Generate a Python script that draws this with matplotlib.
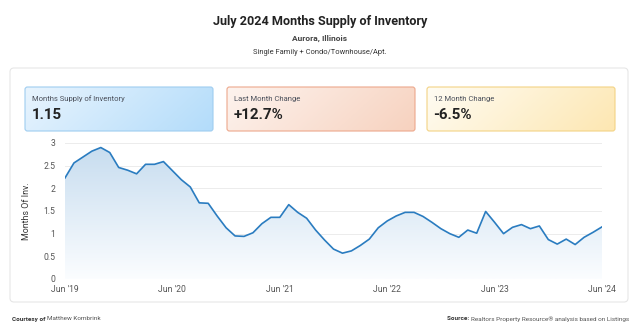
import matplotlib.pyplot as plt
import matplotlib
import numpy as np
from matplotlib.patches import FancyBboxPatch
from matplotlib.colors import LinearSegmentedColormap

matplotlib.rcParams['font.family'] = ['Roboto', 'DejaVu Sans']

# 데이터: Jun '19 ~ Jun '24 월별 재고 개월수
supply = [2.23, 2.56, 2.69, 2.82, 2.90, 2.79, 2.46,
          2.40, 2.32, 2.53, 2.53, 2.59, 2.39, 2.19, 2.03, 1.68, 1.67, 1.39, 1.13,
          0.95, 0.94, 1.02, 1.22, 1.36, 1.36, 1.64, 1.47, 1.34, 1.08, 0.86, 0.66,
          0.57, 0.62, 0.74, 0.88, 1.13, 1.28, 1.39, 1.47, 1.47, 1.38, 1.25, 1.11,
          1.00, 0.92, 1.08, 1.01, 1.49, 1.25, 1.00, 1.14, 1.20, 1.11, 1.17, 0.87,
          0.77, 0.88, 0.76, 0.92, 1.03, 1.15]
tick_labels = ["Jun '19", "Jun '20", "Jun '21", "Jun '22", "Jun '23", "Jun '24"]
kpi_names = ['Months Supply of Inventory', 'Last Month Change', '12 Month Change']
kpi_values = ['1.15', '+12.7%', '-6.5%']

W, H = 640, 336
fig = plt.figure(figsize=(6.4, 3.36), dpi=100)
fig.patch.set_facecolor('white')

# 배경용 축 (픽셀 좌표, 위쪽이 0)
bg = fig.add_axes([0, 0, 1, 1])
bg.set_xlim(0, W)
bg.set_ylim(H, 0)
bg.axis('off')

bg.text(320, 22, 'July 2024 Months Supply of Inventory', ha='center', va='center',
        fontsize=9.1, fontweight='bold', color='#222222')
bg.text(320, 38, 'Aurora, Illinois', ha='center', va='center',
        fontsize=6.0, fontweight='bold', color='#444444')
bg.text(320, 52, 'Single Family + Condo/Townhouse/Apt.', ha='center', va='center',
        fontsize=5.4, color='#333333')

# 카드 영역
card = FancyBboxPatch((10, 68), 618, 234, boxstyle='round,pad=0,rounding_size=4',
                      fc='white', ec='#e6e6e6', lw=0.8)
bg.add_patch(card)

# KPI 박스 (그라데이션)
box_x = [25, 227, 427]
box_colors = [('#e8f4fe', '#b3dcfa', '#9fcdf0'),
              ('#fdf3ee', '#f7d2bf', '#eda88c'),
              ('#fffcf3', '#fde7b2', '#f3d385')]
gx, gy = np.meshgrid(np.linspace(0, 1, 100), np.linspace(0, 1, 30))
grad = gx * 0.8 + gy * 0.2
for i in range(3):
    c1, c2, ec = box_colors[i]
    cmap = LinearSegmentedColormap.from_list('k%d' % i, [c1, c2])
    x0 = box_x[i]
    p = FancyBboxPatch((x0, 87), 188, 44, boxstyle='round,pad=0,rounding_size=2.5',
                       fc='none', ec=ec, lw=0.8, zorder=3)
    bg.add_patch(p)
    im = bg.imshow(grad, extent=[x0, x0 + 188, 131, 87], cmap=cmap, aspect='auto',
                   zorder=2, interpolation='bilinear')
    im.set_clip_path(p)
    bg.text(x0 + 7, 99, kpi_names[i], ha='left', va='center', fontsize=5.5,
            color='#4a4f5a', zorder=4)
    bg.text(x0 + 6.5, 115, kpi_values[i], ha='left', va='center', fontsize=10.9,
            fontweight='bold', color='#222222', zorder=4)
bg.set_xlim(0, W)
bg.set_ylim(H, 0)

# 하단 출처
t1 = bg.text(12, 319, 'Courtesy of ', ha='left', va='center', fontsize=4.6,
             fontweight='bold', color='#333333')
bg.annotate('Matthew Kombrink', xy=(1, 0.5), xycoords=t1, ha='left', va='center',
            fontsize=4.6, color='#555555')
t2 = bg.text(629, 319, 'Realtors Property Resource® analysis based on Listings',
             ha='right', va='center', fontsize=4.6, color='#555555')
bg.annotate('Source: ', xy=(0, 0.5), xycoords=t2, ha='right', va='center',
            fontsize=4.6, fontweight='bold', color='#333333')

# 메인 그래프
ax = fig.add_axes([65 / W, 57 / H, 537 / W, 136 / H])
ax.set_facecolor('none')
x = np.arange(len(supply))
y = np.array(supply)

poly = ax.fill_between(x, y, 0, color='none', lw=0)
fill_cmap = LinearSegmentedColormap.from_list('fill', ['#fbfdff', '#c6dcef'])
img = ax.imshow(np.linspace(0, 1, 100).reshape(-1, 1), extent=[0, 60, 0, 3],
                origin='lower', cmap=fill_cmap, aspect='auto', zorder=1,
                vmin=0, vmax=1.0)
img.set_clip_path(poly.get_paths()[0], transform=ax.transData)
ax.plot(x, y, color='#2a7cc0', lw=1.2, zorder=3)

ax.set_xlim(0, 60)
ax.set_ylim(0, 3)
ax.set_yticks([0, 0.5, 1, 1.5, 2, 2.5, 3])
ax.set_yticklabels(['0', '0.5', '1', '1.5', '2', '2.5', '3'])
ax.set_xticks([0, 12, 24, 36, 48, 60])
ax.set_xticklabels(tick_labels)
ax.grid(axis='y', color='#ececec', lw=0.7)
ax.set_axisbelow(True)
for s in ax.spines.values():
    s.set_visible(False)
ax.tick_params(axis='both', length=0, labelsize=6.2, colors='#555555')
ax.tick_params(axis='y', pad=7)
ax.tick_params(axis='x', pad=4)
ax.set_ylabel('Months Of Inv.', fontsize=6.4, color='#333333', labelpad=9)

plt.savefig('out.png', dpi=100, facecolor='white')
